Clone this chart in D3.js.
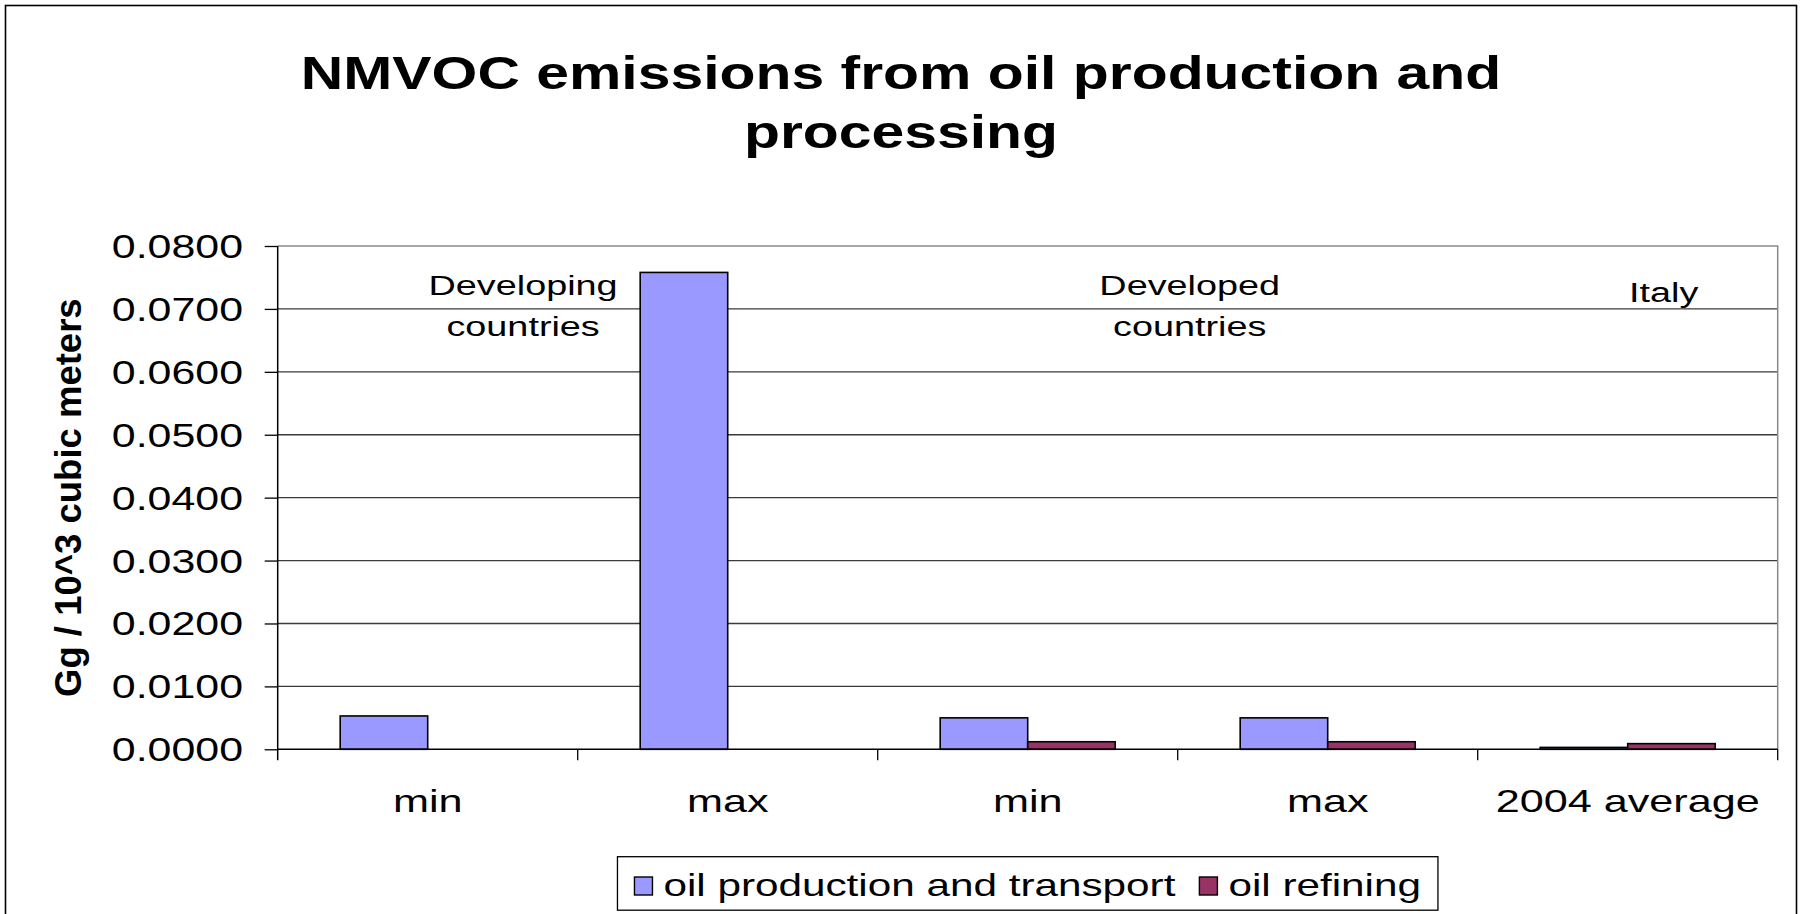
<!DOCTYPE html>
<html>
<head>
<meta charset="utf-8">
<script src="https://cdn.jsdelivr.net/npm/d3@7"></script>
<style>
  html, body { margin: 0; padding: 0; background: #fff; }
  svg { display: block; font-family: "Liberation Sans", Arial, sans-serif; }
</style>
</head>
<body>
<svg id="chart" width="1802" height="914"></svg>
<script>
// ---- data ----
const categories = ["min", "max", "min", "max", "2004 average"];
const seriesNames = ["oil production and transport", "oil refining"];
const productionTransport = [0.0053, 0.0758, 0.0050, 0.0050, 0.0003];
const oilRefining = [null, null, 0.0012, 0.0012, 0.0009];
const yTickValues = [0, 0.01, 0.02, 0.03, 0.04, 0.05, 0.06, 0.07, 0.08];
const groupNotes = [["Developing", "countries"], ["Developed", "countries"], ["Italy"]];
const titleLines = ["NMVOC emissions from oil production and", "processing"];
const yAxisTitle = "Gg / 10^3 cubic meters";

// ---- layout ----
const W = 1802, H = 914;
const plot = { left: 277.7, right: 1777.7, top: 246, bottom: 749.3 };
const SX = 1.35;             // horizontal glyph stretch used for horizontal text
const colors = ["#9999FF", "#993366"];
const values = [productionTransport, oilRefining];

const svg = d3.select("#chart");

// outer frame
svg.append("rect")
  .attr("x", 5.5).attr("y", 5.5)
  .attr("width", W - 11).attr("height", H - 2)
  .attr("fill", "#fff").attr("stroke", "#000").attr("stroke-width", 1.6);

// stretched text helper
function addText(parent, str, x, y, opts = {}) {
  const sx = opts.sx != null ? opts.sx : SX;
  const t = parent.append("text")
    .attr("x", 0).attr("y", 0)
    .attr("transform", `translate(${x},${y})${opts.rotate ? ` rotate(${opts.rotate})` : ""} scale(${sx},1)`)
    .attr("text-anchor", opts.anchor || "middle")
    .attr("font-size", opts.size || 30)
    .attr("font-weight", opts.weight || "normal")
    .attr("fill", "#000")
    .text(str);
  return t;
}

// scales
const x = d3.scaleBand()
  .domain(d3.range(categories.length))
  .range([plot.left, plot.right])
  .paddingInner(0).paddingOuter(0);
const xs = d3.scaleBand()
  .domain(seriesNames)
  .range([0, x.bandwidth()])
  .paddingInner(0).paddingOuter(0.714);
const y = d3.scaleLinear().domain([0, 0.08]).range([plot.bottom, plot.top]);

// title
titleLines.forEach((line, i) => {
  addText(svg, line, W / 2, 89 + i * 59, { size: 46, weight: "bold", sx: 1.28 });
});

// gridlines
svg.append("g")
  .selectAll("line")
  .data(yTickValues.filter(v => v > 0 && v < 0.08))
  .join("line")
  .attr("x1", plot.left).attr("x2", plot.right)
  .attr("y1", d => y(d)).attr("y2", d => y(d))
  .attr("stroke", "#3a3a3a").attr("stroke-width", 1.3);

// plot frame (top and right)
svg.append("path")
  .attr("d", `M${plot.left},${y(0.08)}H${plot.right}V${y(0)}`)
  .attr("fill", "none").attr("stroke", "#8a8a8a").attr("stroke-width", 1.5);

// y axis
const yAxis = d3.axisLeft(y)
  .tickValues(yTickValues)
  .tickSize(13).tickSizeOuter(0)
  .tickFormat(d3.format(".4f"));
const gy = svg.append("g").attr("transform", `translate(${plot.left},0)`).call(yAxis);
gy.select(".domain").remove();
gy.selectAll(".tick line").attr("stroke", "#000").attr("stroke-width", 1.3);
gy.selectAll(".tick text")
  .attr("x", 0).attr("dy", null)
  .attr("transform", `translate(-34.7,11.5) scale(1.3,1)`)
  .attr("font-size", 33).attr("font-family", "Liberation Sans, Arial, sans-serif")
  .attr("fill", "#000");
svg.append("line")
  .attr("x1", plot.left).attr("x2", plot.left)
  .attr("y1", y(0.08)).attr("y2", y(0) + 11)
  .attr("stroke", "#000").attr("stroke-width", 1.5);

// y axis title
addText(svg, yAxisTitle, 81, (plot.top + plot.bottom) / 2, { size: 36.5, weight: "bold", rotate: -90, sx: 1 });

// bars
const barG = svg.append("g");
categories.forEach((c, i) => {
  seriesNames.forEach((s, k) => {
    const v = values[k][i];
    if (v == null) return;
    barG.append("rect")
      .attr("x", x(i) + xs(s))
      .attr("y", y(v))
      .attr("width", xs.bandwidth())
      .attr("height", y(0) - y(v))
      .attr("fill", colors[k])
      .attr("stroke", "#000").attr("stroke-width", 1.6);
  });
});

// x axis baseline and category separators
svg.append("line")
  .attr("x1", plot.left).attr("x2", plot.right)
  .attr("y1", y(0)).attr("y2", y(0))
  .attr("stroke", "#000").attr("stroke-width", 1.4);
const bounds = categories.map((c, i) => x(i)).concat([x(categories.length - 1) + x.bandwidth()]);
svg.append("g").selectAll("line")
  .data(bounds.slice(1))
  .join("line")
  .attr("x1", d => d).attr("x2", d => d)
  .attr("y1", y(0)).attr("y2", y(0) + 11)
  .attr("stroke", "#000").attr("stroke-width", 1.3);

// category labels
categories.forEach((c, i) => {
  addText(svg, c, x(i) + x.bandwidth() / 2, 812, { size: 32 });
});

// group notes inside the plot
const notePos = [
  { cx: x(0) + 0.818 * x.step(), base: 295 },
  { cx: x(3) + 0.04 * x.step(), base: 295 },
  { cx: x(4) + 0.62 * x.step(), base: 301.7 }
];
groupNotes.forEach((lines, g) => {
  lines.forEach((ln, j) => {
    addText(svg, ln, notePos[g].cx, notePos[g].base + j * 41, { size: 28 });
  });
});

// legend
const legend = svg.append("g");
const legendBox = legend.append("rect")
  .attr("fill", "#fff").attr("stroke", "#000").attr("stroke-width", 1.3);
const swatchSize = 18, swatchGap = 29;
let cursor = 0;
const items = [];
seriesNames.forEach((s, k) => {
  const sw = legend.append("rect")
    .attr("width", swatchSize).attr("height", swatchSize)
    .attr("fill", colors[k]).attr("stroke", "#000").attr("stroke-width", 1.4);
  const t = addText(legend, s, 0, 0, { size: 31.3, anchor: "start" });
  const tw = t.node().getComputedTextLength() * SX;
  items.push({ sw, t, start: cursor, tw });
  cursor += swatchGap + tw + 24;
});
const contentW = cursor - 24;
const boxW = contentW + 34;
const boxX = (plot.left + plot.right) / 2 - boxW / 2;
const boxY = 856.7, boxH = 53.5;
legendBox.attr("x", boxX).attr("y", boxY).attr("width", boxW).attr("height", boxH);
items.forEach(it => {
  const x0 = boxX + 17 + it.start;
  it.sw.attr("x", x0).attr("y", 877);
  it.t.attr("transform", `translate(${x0 + swatchGap},895.5) scale(${SX},1)`);
});
</script>
</body>
</html>
